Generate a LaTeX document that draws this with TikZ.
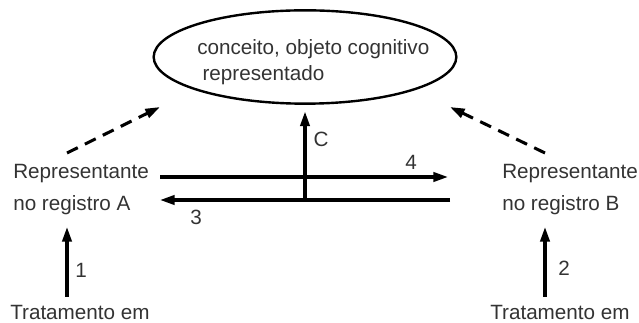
\documentclass[tikz,border=0pt]{standalone}
\usepackage{fontspec}
\setmainfont{Liberation Sans}
\usetikzlibrary{arrows.meta,shapes.geometric}

\tikzset{
  txt/.style={text=black!80, inner sep=0pt, align=left, font=\fontsize{15.5}{24}\selectfont},
  lbl/.style={text=black!80, inner sep=0pt, font=\fontsize{15.5}{18}\selectfont},
  arr/.style={line width=2.3pt, -{Triangle[length=11pt,width=7pt]}},
  dasharr/.style={arr, dash pattern=on 9pt off 6pt},
}

\begin{document}
\begin{tikzpicture}[x=0.75pt, y=-0.75pt]
	\useasboundingbox (0,0) rectangle (639,323);
	% Nodes:
	\node[ellipse, draw, line width=1.8pt, minimum width=227pt, minimum height=70pt] (concept) at (305,57){};
	\node[txt, font=\fontsize{15.5}{19.5}\selectfont, anchor=base west] (conceptlbl) at (197,81){conceito, objeto cognitivo\\\hspace{4pt}representado};
	\node[txt, anchor=base west] (repA) at (13,211){Representante\\no registro A};
	\node[txt, anchor=base west] (repB) at (502,211){Representante\\no registro B};
	\node[txt, anchor=base west] (tratA) at (10,320){Tratamento em};
	\node[txt, anchor=base west] (tratB) at (490,320){Tratamento em};
	% Connector ends:
	\coordinate (dashA) at (67,153);
	\coordinate (dashAend) at (160,107);
	\coordinate (dashB) at (545,153);
	\coordinate (dashBend) at (450,107);
	\coordinate (fourL) at (160,177);
	\coordinate (fourR) at (448,177);
	\coordinate (threeR) at (450,200);
	\coordinate (threeL) at (160,200);
	\coordinate (cross) at (305,200);
	\coordinate (oneS) at (67,297);
	\coordinate (oneE) at (67,227);
	\coordinate (twoS) at (545,297);
	\coordinate (twoE) at (545,227);
	% Arrows:
	\draw[dasharr] (dashA) -- (dashAend);
	\draw[dasharr] (dashB) -- (dashBend);
	\draw[arr] (fourL) -- (fourR);
	\draw[arr] (threeR) -- (threeL);
	\draw[arr, shorten >=5pt] (cross) -- (concept.south);
	\draw[arr] (oneS) -- (oneE);
	\draw[arr] (twoS) -- (twoE);
	% Labels:
	\node[lbl] (lblC) at (321,139){C};
	\node[lbl] (lbl4) at (411,162){4};
	\node[lbl] (lbl3) at (196,217){3};
	\node[lbl] (lbl1) at (81,270){1};
	\node[lbl] (lbl2) at (564,268){2};
\end{tikzpicture}
\end{document}
